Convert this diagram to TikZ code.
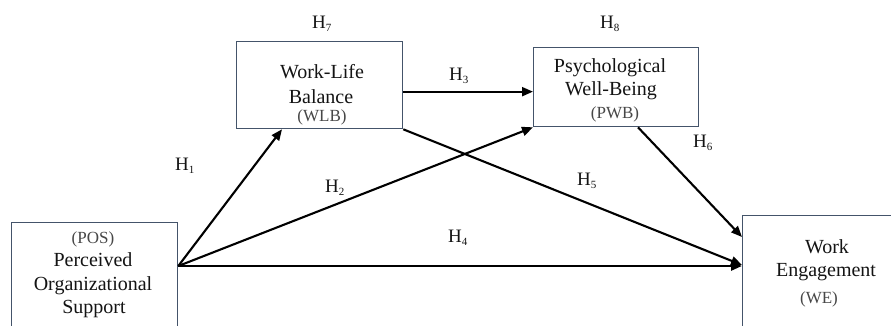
\documentclass[tikz,border=0pt]{standalone}
\usepackage{fontspec}
\setmainfont{Liberation Serif}
\usetikzlibrary{arrows.meta}
\definecolor{boxline}{RGB}{68,84,106}
\newcommand\hyp[1]{H\raisebox{-3.5pt}{\fontsize{11}{11}\selectfont #1}}
\begin{document}
\begin{tikzpicture}[x=1pt,y=-1pt,
  box/.style={draw=boxline,line width=1.3pt,fill=white,rectangle,anchor=north west,inner sep=0pt},
  txt/.style={anchor=base,inner sep=0pt,font=\fontsize{20}{24}\selectfont,text=black!92},
  abbr/.style={anchor=base,inner sep=0pt,font=\fontsize{17}{20}\selectfont,text=black!72},
  hlab/.style={anchor=base west,inner sep=0pt,font=\fontsize{19}{22}\selectfont,text=black!92},
  arr/.style={-{Triangle[length=11pt,width=9pt]},line width=2.1pt,black}]
\path[use as bounding box] (0,0) rectangle (891,325);
\clip (0,0) rectangle (891,325);

% construct boxes
\node[box,minimum width=166pt,minimum height=140pt] (pos) at (11,222) {};
\node[box,minimum width=166pt,minimum height=87pt] (wlb) at (236,41) {};
\node[box,minimum width=165pt,minimum height=79pt] (pwb) at (533,47) {};
\node[box,minimum width=170pt,minimum height=140pt] (we) at (742,215) {};

% box texts
\node[abbr] (posA) at (93,243) {(POS)};
\node[txt] (posB) at (93,266) {Perceived};
\node[txt] (posC) at (93,290) {Organizational};
\node[txt] (posD) at (94,313) {Support};

\node[txt] (wlbA) at (322,78) {Work-Life};
\node[txt] (wlbB) at (321,103) {Balance};
\node[abbr] (wlbC) at (322,121) {(WLB)};

\node[txt] (pwbA) at (610,72) {Psychological};
\node[txt] (pwbB) at (611,95) {Well-Being};
\node[abbr] (pwbC) at (615,118) {(PWB)};

\node[txt] (weA) at (827,253) {Work};
\node[txt] (weB) at (826,276) {Engagement};
\node[abbr] (weC) at (819,303) {(WE)};

% connector end points on the boxes
\coordinate (src) at ([yshift=-44pt]pos.north east);
\coordinate (h1end) at ([xshift=46pt]wlb.south west);
\coordinate (h3start) at ([yshift=-6.5pt]wlb.east);
\coordinate (h5end) at ([yshift=-50pt]we.north west);
\coordinate (h6start) at ([xshift=105pt]pwb.south west);
\coordinate (h6end) at ([yshift=-22pt]we.north west);

% paths
\draw[arr] (src) -- (h1end);
\draw[arr] (src) -- (pwb.south west);
\draw[arr,line width=2.6pt] (src) -- (src -| we.west);
\draw[arr] (h3start) -- (h3start -| pwb.west);
\draw[arr] (wlb.south east) -- (h5end);
\draw[arr] (h6start) -- (h6end);

% hypothesis labels
\node[hlab] (H7) at (312,28) {\hyp{7}};
\node[hlab] (H8) at (600,28) {\hyp{8}};
\node[hlab] (H1) at (175,170) {\hyp{1}};
\node[hlab] (H2) at (325,192) {\hyp{2}};
\node[hlab] (H3) at (449,80) {\hyp{3}};
\node[hlab] (H4) at (448,242) {\hyp{4}};
\node[hlab] (H5) at (577,185) {\hyp{5}};
\node[hlab] (H6) at (693,147) {\hyp{6}};
\end{tikzpicture}
\end{document}
